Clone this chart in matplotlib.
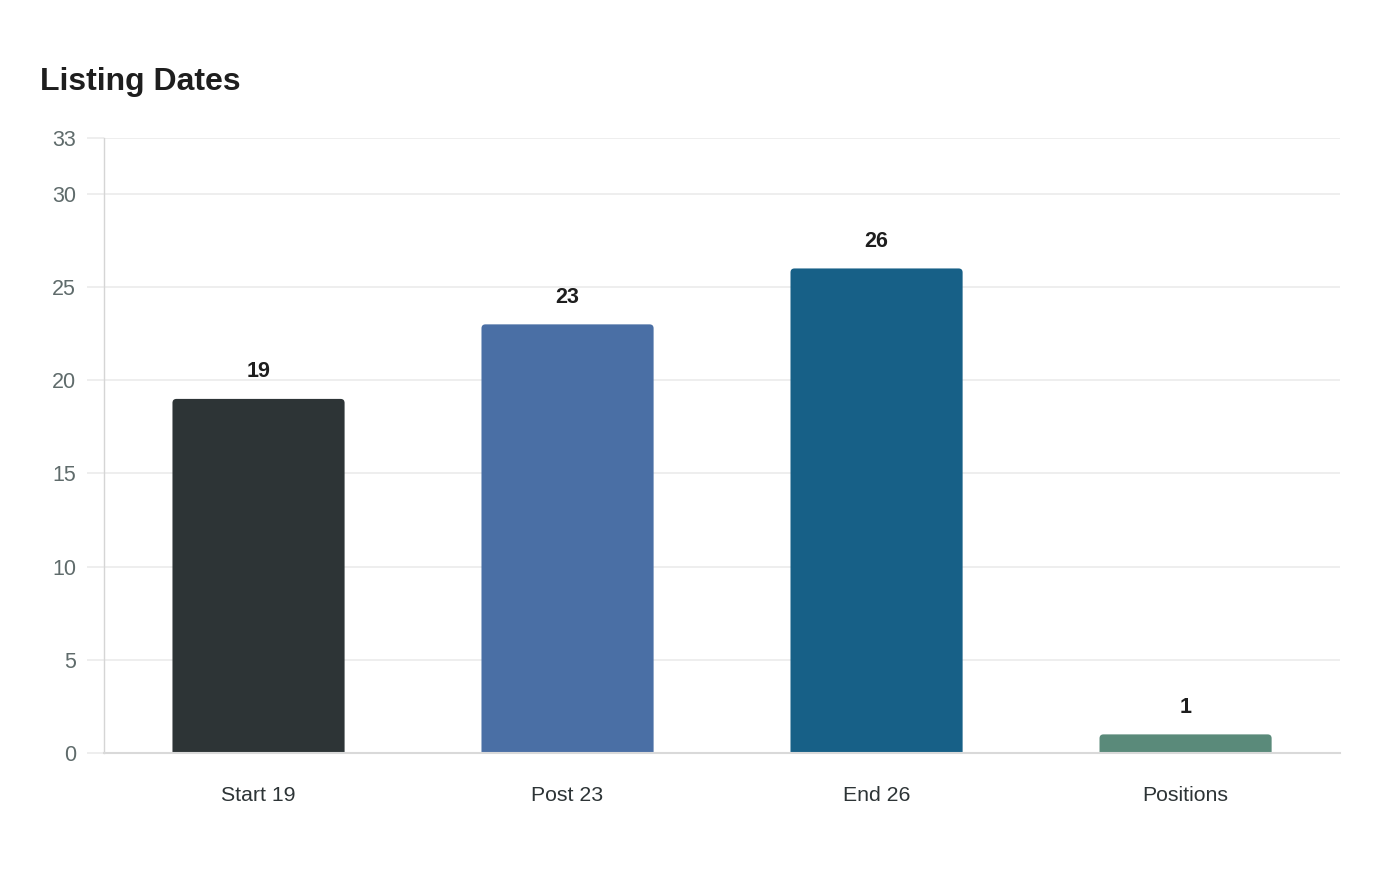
import matplotlib
matplotlib.use("Agg")
import matplotlib.pyplot as plt
from matplotlib.patches import FancyBboxPatch

plt.rcParams["font.family"] = ["Liberation Sans", "DejaVu Sans"]

categories = ["Start 19", "Post 23", "End 26", "Positions"]
values     = [19, 23, 26, 1]
colors     = ["#2d3436", "#4a6fa5", "#176087", "#5a8a7a"]
y_ticks    = [0, 5, 10, 15, 20, 25, 30, 33]

fig = plt.figure(figsize=(14, 8.8), dpi=100)
ax = fig.add_axes([0.0743, 0.1443, 0.8829, 0.6989])

bar_w = 0.557
r_x = 0.013          # corner radius in x data units
aspect = 16.5        # y/x scale so the corner looks round
for i, (v, c) in enumerate(zip(values, colors)):
    patch = FancyBboxPatch((i - bar_w / 2, -1), bar_w, v + 1,
                           boxstyle=f"round,pad=0,rounding_size={r_x}",
                           mutation_aspect=aspect,
                           facecolor=c, edgecolor="none", zorder=3)
    ax.add_patch(patch)
    ax.annotate(str(v), (i, v), xytext=(0, 19.5), textcoords="offset points",
                ha="center", va="center", fontsize=15.5, fontweight="bold",
                color="#1e1e1e", zorder=4)

ax.set_xlim(-0.5, len(categories) - 0.5)
ax.set_ylim(0, 33)
ax.set_xticks(range(len(categories)))
ax.set_xticklabels(categories, fontsize=15.3, color="#2d3436")
ax.set_yticks(y_ticks)
ax.set_yticklabels([str(t) for t in y_ticks], fontsize=15.5, color="#5f6b6b")

ax.grid(axis="y", color="#ebebeb", linewidth=1.2, zorder=0)
ax.tick_params(axis="y", length=12, width=1.2, color="#ebebeb", pad=8)
ax.tick_params(axis="x", length=0, pad=24)

for s in ["top", "right"]:
    ax.spines[s].set_visible(False)
ax.spines["left"].set_color("#d5d5d5")
ax.spines["left"].set_linestyle((0, (1, 1)))
ax.spines["left"].set_linewidth(1)
ax.spines["bottom"].set_color("#d9d9d9")
ax.spines["bottom"].set_linewidth(1.5)
ax.spines["bottom"].set_zorder(5)

fig.text(40 / 1400, 1 - 82 / 880, "Listing Dates", fontsize=23, fontweight="bold",
         color="#1e1e1e", ha="left", va="center")

fig.savefig("out.png", dpi=100, facecolor="white")
